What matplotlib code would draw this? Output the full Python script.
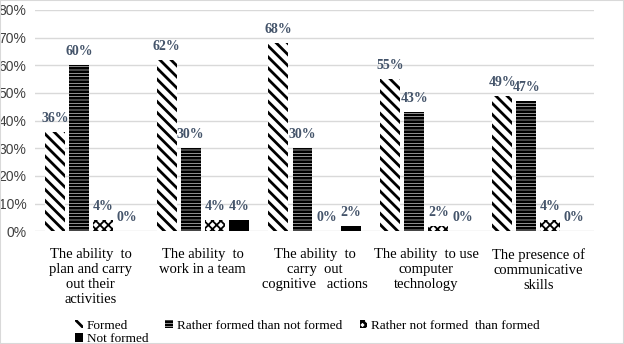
import matplotlib.pyplot as plt
import matplotlib.patches as mpatches
import numpy as np

categories = ['The ability  to\nplan and carry\nout their\nactivities',
              'The ability  to\nwork in a team',
              'The ability  to\ncarry  out\ncognitive   actions',
              'The ability  to use\ncomputer\ntechnology',
              'The presence of\ncommunicative\nskills']
series_names = ['Formed', 'Rather formed than not formed',
                'Rather not formed  than formed', 'Not formed']
formed = [36, 62, 68, 55, 49]
rather_formed = [60, 30, 30, 43, 47]
rather_not = [4, 4, 0, 2, 4]
not_formed = [0, 4, 2, 0, 0]
series = [formed, rather_formed, rather_not, not_formed]
hatches = ['\\\\\\', '-----', 'xxxx', None]
fills = ['white', 'white', 'white', 'black']
yticks = [0, 10, 20, 30, 40, 50, 60, 70, 80]

plt.rcParams['hatch.linewidth'] = 2.0

fig = plt.figure(figsize=(6.24, 3.44), dpi=100)
ax = fig.add_axes([0.056, 0.328, 0.896, 0.643])

x = np.arange(len(categories))
step = 0.215
width = 0.178
handles = []
for i, vals in enumerate(series):
    pos = x + (i - 1.5) * step
    bars = ax.bar(pos, vals, width, color=fills[i], edgecolor='black', linewidth=0,
                  hatch=hatches[i], label=series_names[i], zorder=2)
    if i == 2:
        for b in bars:
            try:
                b.set_hatch_linewidth(1.3)
            except AttributeError:
                pass
    handles.append(bars)
    for p, v in zip(pos, vals):
        ax.annotate(f'{v}%', (p, v), xytext=(0, 5), textcoords='offset points',
                    ha='center', va='bottom', fontsize=10, fontweight='bold',
                    family='Liberation Serif', color='#44546A')

ax.set_xlim(-0.5, 4.5)
ax.set_ylim(0, 80)
ax.set_yticks(yticks)
ax.set_yticklabels([f'{t}%' for t in yticks], family='Liberation Sans', fontsize=10,
                   color='#404040')
ax.set_xticks(x)
ax.set_xticklabels(categories, family='Liberation Serif', fontsize=10.5,
                   linespacing=1.2, va='top')
ax.tick_params(axis='both', length=0)
ax.tick_params(axis='x', pad=12)
ax.tick_params(axis='y', pad=6)
ax.grid(axis='y', color='#D9D9D9', linewidth=1, zorder=0)
for s in ax.spines.values():
    s.set_visible(False)

# legend fills column by column, so order entries to read row by row
order = [0, 3, 1, 2]
leg = fig.legend([handles[k] for k in order], [series_names[k] for k in order],
                 loc='lower left', bbox_to_anchor=(0.105, -0.03), ncol=3,
                 frameon=False, prop={'family': 'Liberation Serif', 'size': 9.5},
                 handlelength=0.6, handleheight=0.6, handletextpad=0.3,
                 columnspacing=1.3, labelspacing=0.1, borderpad=0.2)

fig.patches.append(mpatches.Rectangle((0, 0), 1, 1, transform=fig.transFigure,
                                      fill=False, edgecolor='#D9D9D9', linewidth=1.5))

fig.savefig('out.png', dpi=100)
